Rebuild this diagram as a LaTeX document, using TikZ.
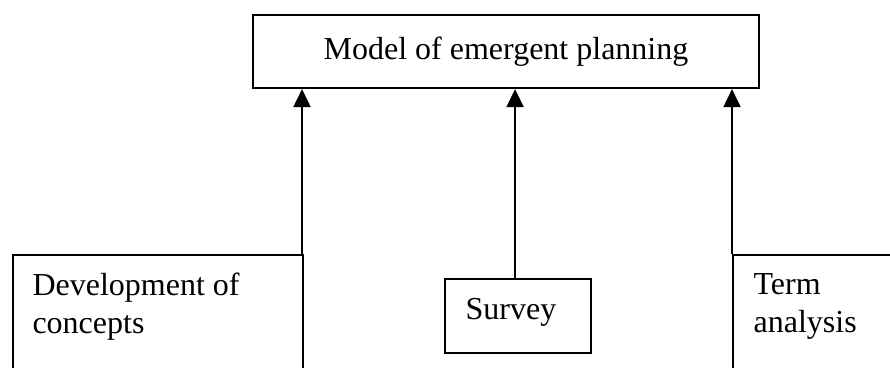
\documentclass[tikz,border=0pt]{standalone}
\usepackage{fontspec}
\setmainfont{Liberation Serif}
\usetikzlibrary{arrows.meta}
\tikzstyle{block} = [rectangle, draw, line width=0.75pt, inner sep=0pt]
\tikzstyle{boxtext} = [anchor=north west, align=left, inner sep=0pt]
\tikzstyle{line} = [draw, line width=0.75pt, -{Triangle[width=6.4pt,length=6.8pt]}]

\begin{document}
\begin{tikzpicture}[x=0.375pt, y=-0.375pt, font=\fontsize{12}{14.25}\selectfont]
	\useasboundingbox (0,0) rectangle (890,368);
	\clip (0,0) rectangle (890,368);

		\node [block, anchor=north west, minimum width=189.75pt, minimum height=27.4pt] (model) at (252,14) {Model of emergent planning};

		\node [block, anchor=north west, minimum width=108.75pt, minimum height=60pt,
			label={[boxtext, xshift=7.5pt, yshift=-7.1pt]north west:Development of\\concepts}] (concepts) at (12,254) {};
		\node [block, anchor=north west, minimum width=54.75pt, minimum height=27.75pt,
			label={[boxtext, xshift=7.9pt, yshift=-7.5pt]north west:Survey}] (survey) at (444,278) {};
		\node [block, anchor=north west, minimum width=75pt, minimum height=60pt,
			label={[boxtext, xshift=7.9pt, yshift=-7.1pt]north west:Term\\analysis}] (terms) at (732,254) {};

		\path [line] ([xshift=-0.75pt]concepts.north east) coordinate (c1) -- (c1 |- model.south);
		\path [line] ([xshift=-1.1pt]survey.north) coordinate (c2) -- (c2 |- model.south);
		\path [line] (terms.north west) -- (terms.north west |- model.south);
	\end{tikzpicture}
\end{document}
